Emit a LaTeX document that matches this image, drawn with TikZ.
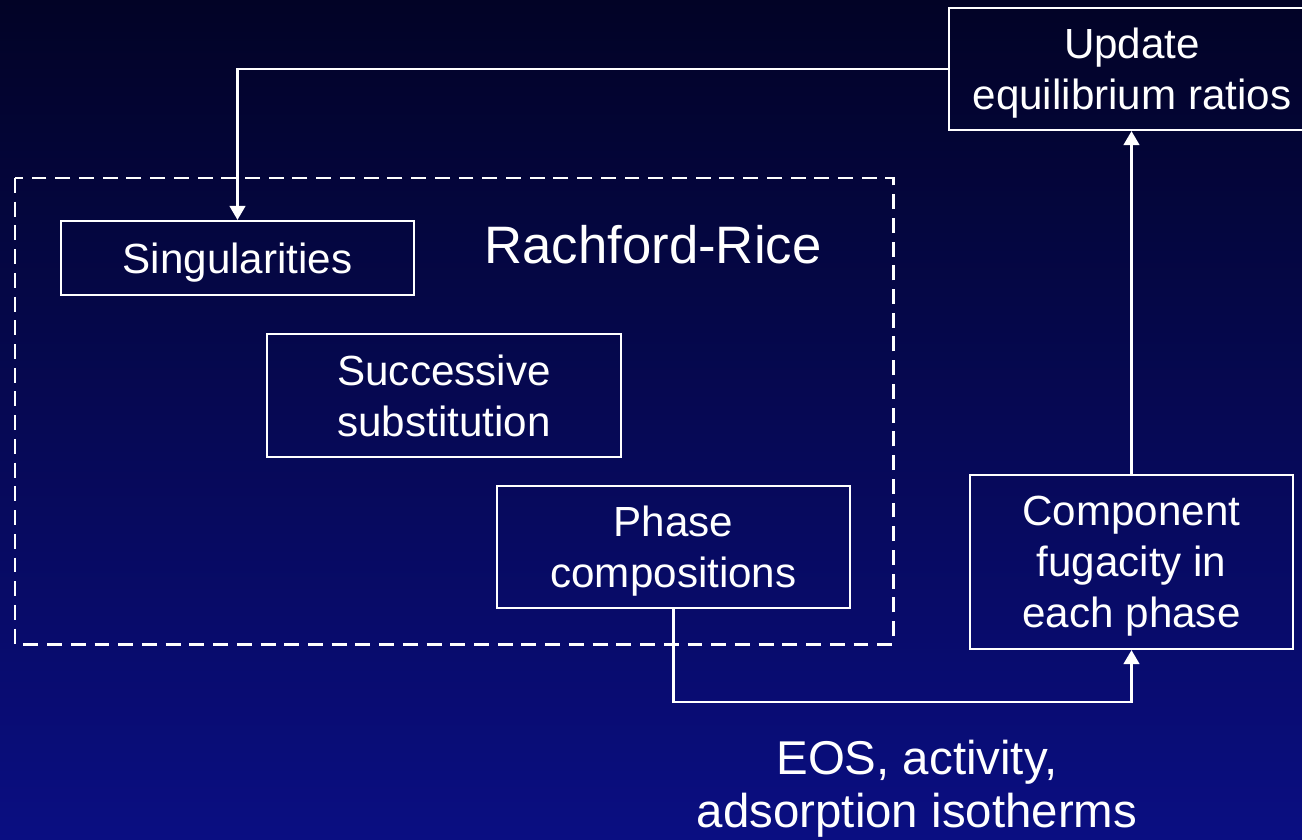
\documentclass[tikz,border=0pt]{standalone}
\usepackage{fontspec}
\setmainfont{Liberation Sans}
\usetikzlibrary{arrows.meta}

\definecolor{bgtop}{RGB}{2,3,38}
\definecolor{bgbottom}{RGB}{10,14,130}

\tikzset{
  stepbox/.style={draw=white,line width=1.3pt,align=center,text=white,
    font=\fontsize{24}{29}\selectfont,inner sep=0pt,text depth=0pt},
  flow/.style={draw=white,line width=1.3pt,-{Triangle[width=9pt,length=8pt]}}
}

\begin{document}
\begin{tikzpicture}[x=0.02cm,y=-0.02cm]
    % Background
    \shade[top color=bgtop,bottom color=bgbottom] (0,0) rectangle (1302,839);
    \useasboundingbox (0,0) rectangle (1302,839);

    % Rachford-Rice block
    \draw[white,line width=1.7pt,dash pattern=on 8.5pt off 5pt] (15,178) rectangle (893,644);
    \node[text=white,font=\fontsize{30}{36}\selectfont] (rrlabel) at (653,245) {Rachford-Rice};

    % Boxes
    \node[stepbox,minimum width=7.06cm,minimum height=1.48cm] (sing) at (237.5,258) {Singularities};
    \node[stepbox,minimum width=7.08cm,minimum height=2.46cm] (subst) at (444,395.5) {Successive\\substitution};
    \node[stepbox,minimum width=7.06cm,minimum height=2.44cm] (phase) at (673.5,547) {Phase\\compositions};
    \node[stepbox,minimum width=6.46cm,minimum height=3.48cm] (fug) at (1131.5,562) {Component\\fugacity in\\each phase};
    \node[stepbox,minimum width=7.32cm,minimum height=2.44cm] (upd) at (1132,69) {Update\\equilibrium ratios};

    % Models label
    \node[text=white,align=center,font=\fontsize{27}{30}\selectfont] (models) at (917,789) {EOS, activity,\\adsorption isotherms};

    % Loop
    \coordinate (low) at (673.5,702);
    \draw[flow] (phase.south) -- (low) -| (fug.south);
    \draw[flow] (fug.north) -- (fug.north |- upd.south);
    \draw[flow] (upd.west) -| (sing.north);
  \end{tikzpicture}
\end{document}
